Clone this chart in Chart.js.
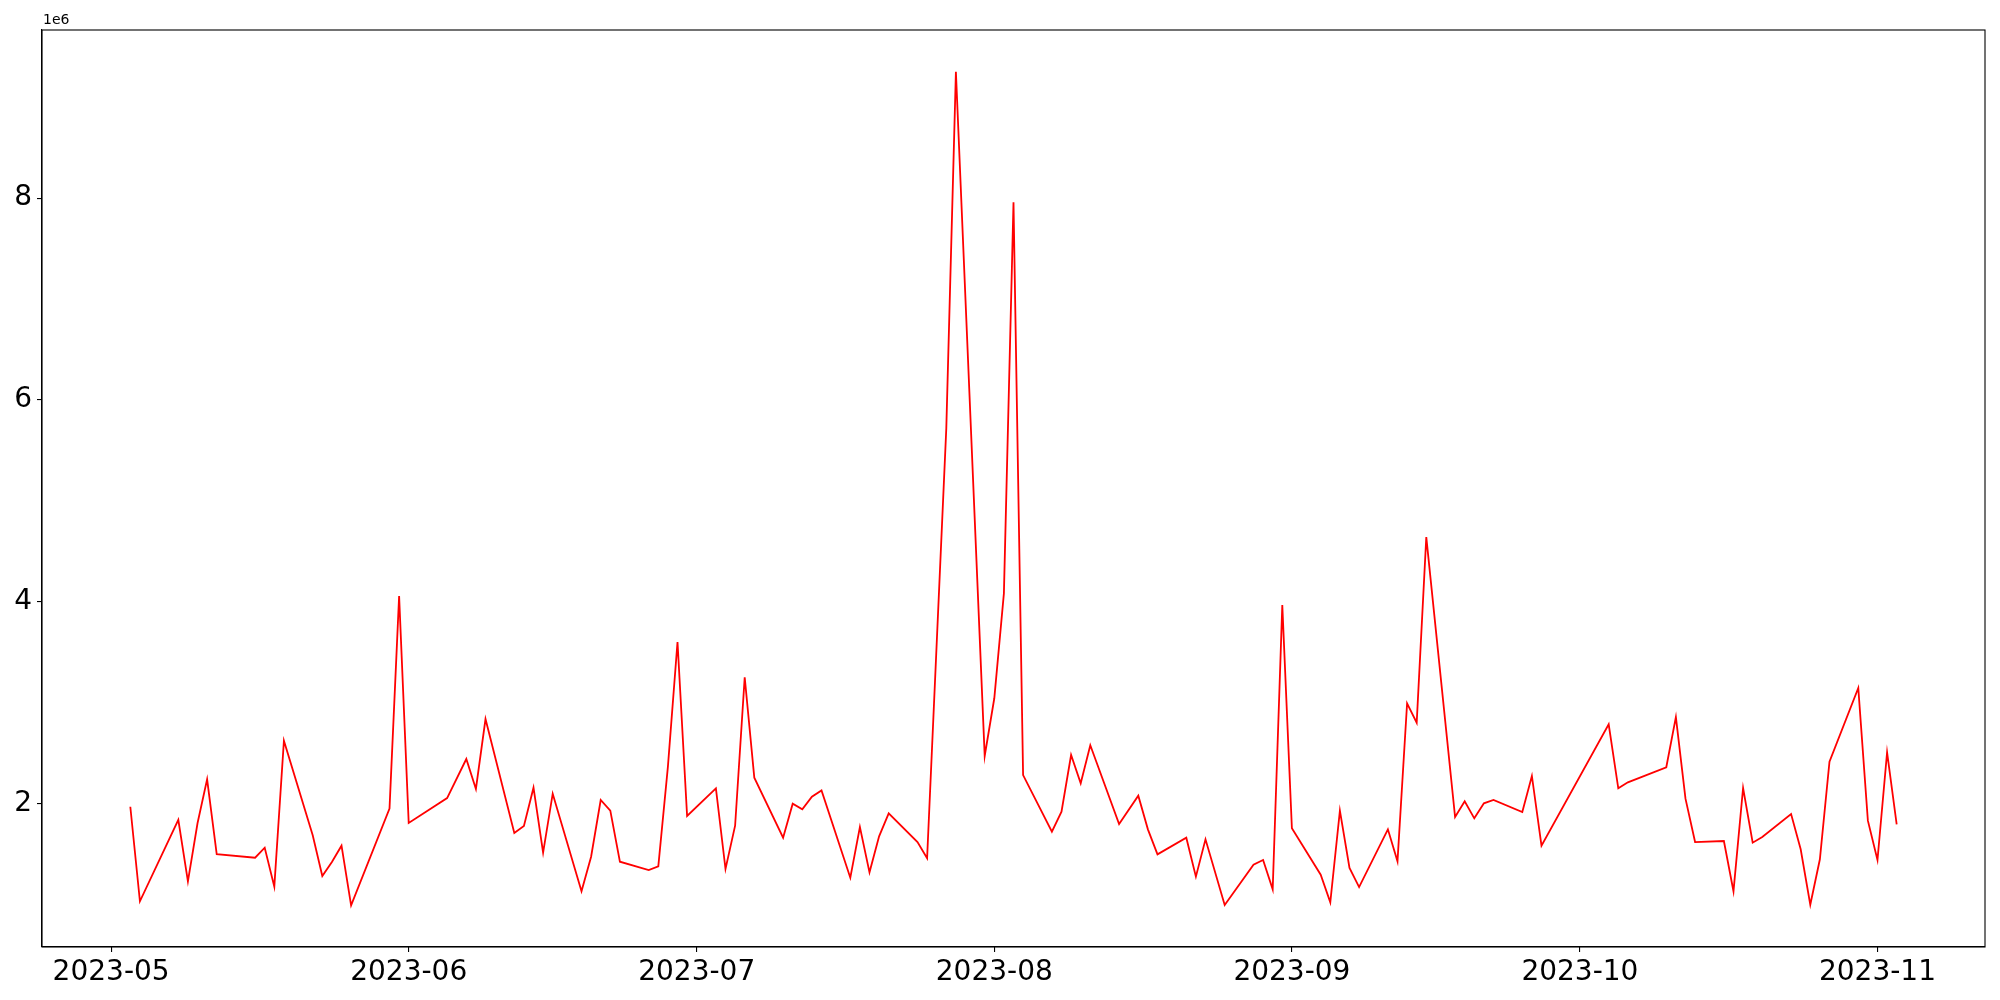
<!DOCTYPE html>
<html><head><meta charset="utf-8">
<script src="https://cdn.jsdelivr.net/npm/chart.js@4/dist/chart.umd.min.js"></script>
<style>html,body{margin:0;padding:0;background:#fff;} canvas{display:block;}</style>
</head><body>
<canvas id="c" width="2000" height="1000" style="width:2000px;height:1000px"></canvas>
<script>
const dates = [
"2023-05-03","2023-05-04","2023-05-08","2023-05-09","2023-05-10","2023-05-11","2023-05-12","2023-05-16","2023-05-17","2023-05-18","2023-05-19",
"2023-05-22","2023-05-23","2023-05-24","2023-05-25","2023-05-26","2023-05-30","2023-05-31","2023-06-01","2023-06-05","2023-06-07","2023-06-08","2023-06-09",
"2023-06-12","2023-06-13","2023-06-14","2023-06-15","2023-06-16","2023-06-19","2023-06-20","2023-06-21","2023-06-22","2023-06-23",
"2023-06-26","2023-06-27","2023-06-28","2023-06-29","2023-06-30","2023-07-03","2023-07-04","2023-07-05","2023-07-06","2023-07-07",
"2023-07-10","2023-07-11","2023-07-12","2023-07-13","2023-07-14","2023-07-17","2023-07-18","2023-07-19","2023-07-20","2023-07-21",
"2023-07-24","2023-07-25","2023-07-27","2023-07-28","2023-07-31","2023-08-01","2023-08-02","2023-08-03","2023-08-04",
"2023-08-07","2023-08-08","2023-08-09","2023-08-10","2023-08-11","2023-08-14","2023-08-16","2023-08-17","2023-08-18",
"2023-08-21","2023-08-22","2023-08-23","2023-08-25","2023-08-28","2023-08-29","2023-08-30","2023-08-31","2023-09-01",
"2023-09-04","2023-09-05","2023-09-06","2023-09-07","2023-09-08","2023-09-11","2023-09-12","2023-09-13","2023-09-14","2023-09-15",
"2023-09-18","2023-09-19","2023-09-20","2023-09-21","2023-09-22","2023-09-25","2023-09-26","2023-09-27",
"2023-10-04","2023-10-05","2023-10-06","2023-10-10","2023-10-11","2023-10-12","2023-10-13",
"2023-10-16","2023-10-17","2023-10-18","2023-10-19","2023-10-20","2023-10-23","2023-10-24","2023-10-25","2023-10-26","2023-10-27",
"2023-10-30","2023-10-31","2023-11-01","2023-11-02","2023-11-03"
];
const values = [
1969000,1032000,1840000,1230000,1805000,2241000,1500000,1464000,1563000,1177000,2624000,
1686000,1282000,1421000,1583000,992000,1950000,4058000,1808000,2055000,2442000,2145000,2838000,
1709000,1778000,2158000,1514000,2098000,1131000,1474000,2036000,1930000,1424000,
1342000,1378000,2366000,3602000,1877000,2151000,1352000,1781000,3252000,2257000,
1662000,1999000,1943000,2069000,2131000,1266000,1768000,1319000,1676000,1904000,
1619000,1458000,5720000,9254000,2472000,3044000,4084000,7959000,2283000,
1722000,1920000,2482000,2201000,2578000,1798000,2079000,1745000,1497000,
1662000,1276000,1646000,995000,1395000,1441000,1151000,3968000,1755000,
1295000,1022000,1930000,1362000,1173000,1745000,1428000,2994000,2802000,4642000,
1867000,2023000,1854000,2003000,2036000,1917000,2274000,1583000,
2786000,2151000,2211000,2360000,2858000,2049000,1619000,
1629000,1131000,2155000,1613000,1669000,1897000,1547000,998000,1448000,2415000,
3146000,1831000,1441000,2508000,1795000
];
const xTickLabels = ["2023-05","2023-06","2023-07","2023-08","2023-09","2023-10","2023-11"];
const yTickValues = [2000000,4000000,6000000,8000000];
const yScaleFactor = 1000000;
const offsetLabel = "1e6";

const BASE = Date.UTC(2023,4,1);
function dayNum(s){const p=s.split('-').map(Number);return (Date.UTC(p[0],p[1]-1,p[2]||1)-BASE)/86400000;}
function dayLabel(d){const t=new Date(BASE+Math.round(d)*86400000);return t.getUTCFullYear()+'-'+String(t.getUTCMonth()+1).padStart(2,'0');}

const pts = dates.map((d,i)=>({x:dayNum(d),y:values[i]}));
const xs = pts.map(p=>p.x), ysv = values;
const xMinD=Math.min(...xs), xMaxD=Math.max(...xs), yMinD=Math.min(...ysv), yMaxD=Math.max(...ysv);
const xPad=(xMaxD-xMinD)*0.05, yPad=(yMaxD-yMinD)*0.05;
const xTickPos = xTickLabels.map(l=>dayNum(l+'-01'));

const FONT = "'DejaVu Sans', sans-serif";

const framePlugin = {
  id:'frame',
  afterDraw(chart){
    const {ctx, chartArea:a} = chart;
    ctx.save();
    ctx.strokeStyle='#000'; ctx.lineWidth=1.1;
    ctx.strokeRect(a.left, a.top, a.right-a.left, a.bottom-a.top);
    ctx.fillStyle='#000'; ctx.font="14px "+FONT; ctx.textBaseline='bottom'; ctx.textAlign='left';
    ctx.fillText(offsetLabel, a.left+1, a.top-3);
    ctx.restore();
  }
};

new Chart(document.getElementById('c'), {
  type:'line',
  data:{datasets:[{data:pts, borderColor:'#ff0000', borderWidth:1.8, pointRadius:0, fill:false, tension:0}]},
  options:{
    responsive:false, animation:false, devicePixelRatio:1,
    layout:{padding:{left:0,right:15,top:30,bottom:0}},
    plugins:{legend:{display:false}, tooltip:{enabled:false}},
    scales:{
      x:{type:'linear', min:xMinD-xPad, max:xMaxD+xPad,
        afterBuildTicks(s){s.ticks = xTickPos.map(v=>({value:v}));},
        afterFit(s){s.height=53;},
        grid:{drawOnChartArea:false, drawTicks:true, tickLength:5, color:'#000', lineWidth:1.1},
        border:{display:true, color:'#000', width:1.1},
        ticks:{autoSkip:false, maxRotation:0, color:'#000', padding:4, font:{family:FONT, size:28},
          callback:(v)=>dayLabel(v)}
      },
      y:{type:'linear', min:yMinD-yPad, max:yMaxD+yPad,
        afterBuildTicks(s){s.ticks = yTickValues.map(v=>({value:v}));},
        afterFit(s){s.width=42;},
        grid:{drawOnChartArea:false, drawTicks:true, tickLength:5, color:'#000', lineWidth:1.1},
        border:{display:true, color:'#000', width:1.1},
        ticks:{color:'#000', padding:5, font:{family:FONT, size:28},
          callback:(v)=>String(v/yScaleFactor)}
      }
    }
  },
  plugins:[framePlugin]
});
</script>
</body></html>
